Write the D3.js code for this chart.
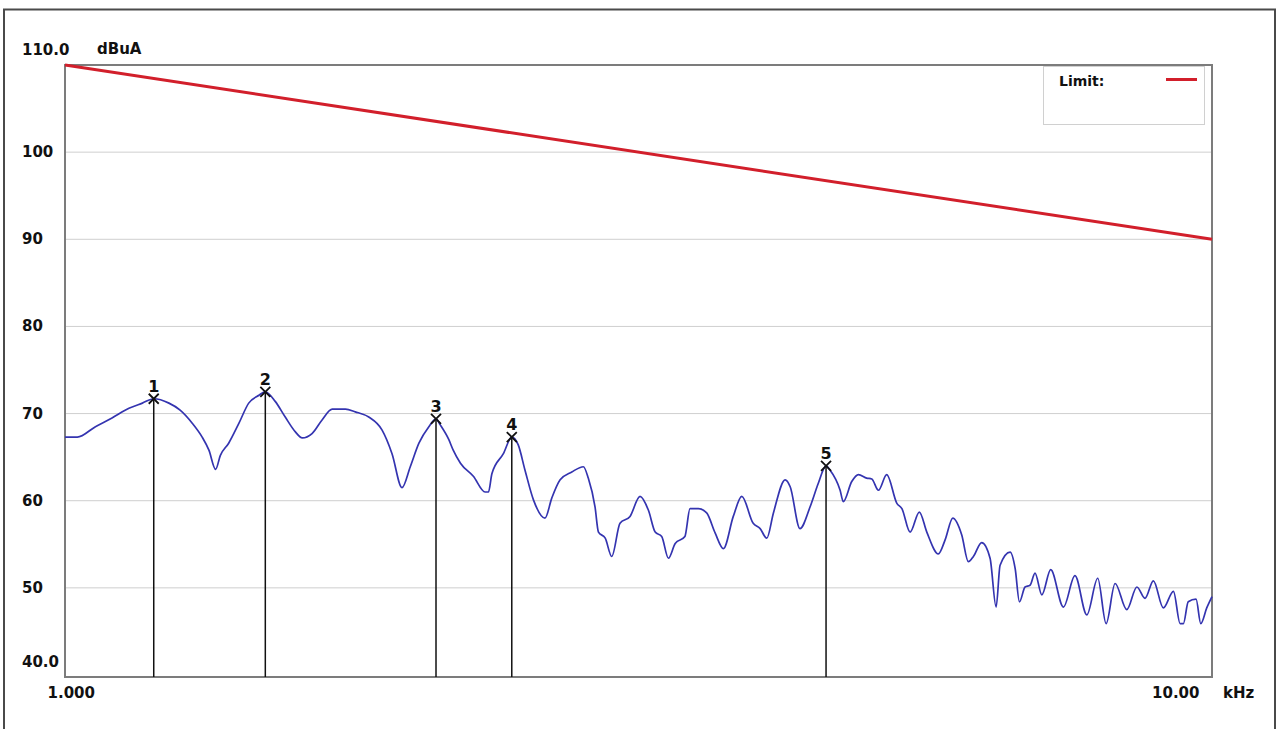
<!DOCTYPE html>
<html>
<head>
<meta charset="utf-8">
<title>Conducted emission scan</title>
<script src="https://cdn.jsdelivr.net/npm/d3@7"></script>
<style>
  html, body { margin: 0; padding: 0; background: #ffffff; }
  svg { display: block; }
  .lbl { font-family: "DejaVu Sans", sans-serif; font-weight: bold; font-size: 15px; fill: #111111; }
</style>
</head>
<body>
<svg id="chart" width="1279" height="729"></svg>
<script>
// Measured spectrum (frequency in kHz, level in dBuA)
const freqKHz = [
  1.000, 1.025, 1.063, 1.099, 1.137, 1.168, 1.195, 1.232, 1.260, 1.291,
  1.317, 1.335, 1.353, 1.366, 1.389, 1.418, 1.446, 1.476, 1.495, 1.525,
  1.556, 1.588, 1.610, 1.642, 1.676, 1.710, 1.756, 1.791, 1.840, 1.890,
  1.928, 1.967, 2.000, 2.035, 2.076, 2.106, 2.124, 2.161, 2.180, 2.212,
  2.270, 2.324, 2.340, 2.356, 2.411, 2.452, 2.484, 2.518, 2.561, 2.621,
  2.657, 2.702, 2.766, 2.831, 2.859, 2.898, 2.918, 2.958, 2.997, 3.047,
  3.109, 3.172, 3.226, 3.270, 3.313, 3.358, 3.404, 3.471, 3.507, 3.566,
  3.626, 3.688, 3.750, 3.825, 3.891, 3.981, 4.037, 4.091, 4.146, 4.245,
  4.288, 4.373, 4.463, 4.537, 4.608, 4.646, 4.740, 4.770, 4.852, 4.917,
  5.000, 5.051, 5.119, 5.205, 5.312, 5.366, 5.455, 5.557, 5.641, 5.773,
  5.852, 5.943, 6.050, 6.132, 6.194, 6.298, 6.405, 6.483, 6.535, 6.668,
  6.736, 6.794, 6.871, 6.940, 7.010, 7.106, 7.234, 7.421, 7.595, 7.778,
  7.950, 8.085, 8.232, 8.428, 8.600, 8.742, 8.890, 9.069, 9.255, 9.380,
  9.442, 9.534, 9.685, 9.777, 9.895, 10.000
];
const levelDbuA = [
  67.3, 67.3, 68.5, 69.5, 70.6, 71.2, 71.7, 71.2, 70.4, 68.9,
  67.3, 65.8, 63.6, 65.2, 66.6, 68.9, 71.2, 72.1, 72.5, 71.4,
  69.6, 67.9, 67.2, 67.7, 69.3, 70.5, 70.5, 70.2, 69.6, 68.1,
  65.4, 61.5, 63.9, 66.6, 68.5, 69.4, 68.7, 67.0, 65.8, 64.3,
  62.8, 61.0, 61.0, 63.1, 65.4, 67.3, 66.4, 63.5, 60.1, 58.0,
  60.3, 62.4, 63.3, 63.9, 62.6, 59.3, 56.4, 55.7, 53.6, 57.4,
  58.2, 60.5, 58.9, 56.4, 55.9, 53.4, 55.1, 55.9, 59.1, 59.1,
  58.6, 56.3, 54.5, 58.2, 60.5, 57.4, 56.8, 55.7, 58.6, 62.4,
  61.6, 56.8, 59.3, 62.0, 64.0, 63.5, 61.2, 59.9, 62.2, 63.0,
  62.6, 62.5, 61.2, 63.0, 59.7, 59.1, 56.4, 58.7, 56.4, 53.9,
  55.5, 58.0, 56.1, 53.0, 53.6, 55.2, 53.4, 47.8, 52.6, 54.1,
  52.2, 48.4, 50.1, 50.3, 51.7, 49.2, 52.1, 47.8, 51.4, 46.9,
  51.1, 45.9, 50.5, 47.5, 50.1, 48.8, 50.8, 47.7, 49.6, 45.9,
  45.9, 48.4, 48.7, 45.9, 47.7, 49.0
];

// Limit line end points
const limitFreqKHz = [1, 10];
const limitDbuA = [110, 90];

// Peak markers
const markerFreqKHz = [1.195, 1.495, 2.106, 2.452, 4.608];
const markerDbuA = [71.7, 72.5, 69.4, 67.3, 64.0];
const markerLabels = ["1", "2", "3", "4", "5"];

// Axis ticks and labels
const yTicks = [110, 100, 90, 80, 70, 60, 50, 40];
const yTickLabels = ["110.0", "100", "90", "80", "70", "60", "50", "40.0"];
const gridLevels = [100, 90, 80, 70, 60, 50];
const xTicks = [1, 10];
const xTickLabels = ["1.000", "10.00"];
const yUnit = "dBuA";
const xUnit = "kHz";
const legendLabel = "Limit:";

const svg = d3.select("#chart");
const W = 1279, H = 729;
const plot = { left: 65, right: 1212, top: 65, bottom: 677 };

const x = d3.scaleLog().domain([1, 10]).range([plot.left, plot.right]);
const y = d3.scaleLinear().domain([40, 110]).range([675, plot.top]);

svg.append("rect").attr("width", W).attr("height", H).attr("fill", "#ffffff");

// outer frame
svg.append("path")
  .attr("d", `M4,${H + 2} V9.5 H1275 V${H + 2}`)
  .attr("fill", "none").attr("stroke", "#4a4a4a").attr("stroke-width", 2);

// horizontal grid
svg.append("g").selectAll("line").data(gridLevels).join("line")
  .attr("x1", plot.left).attr("x2", plot.right)
  .attr("y1", d => y(d)).attr("y2", d => y(d))
  .attr("stroke", "#cfcfcf").attr("stroke-width", 1);

// plot frame
svg.append("rect")
  .attr("x", plot.left).attr("y", plot.top)
  .attr("width", plot.right - plot.left).attr("height", plot.bottom - plot.top)
  .attr("fill", "none").attr("stroke", "#7c7c7c").attr("stroke-width", 2);

// legend box
const legend = svg.append("g");
legend.append("rect")
  .attr("x", 1043.5).attr("y", 66.5).attr("width", 161).attr("height", 58)
  .attr("fill", "#ffffff").attr("stroke", "#d0d0d0").attr("stroke-width", 1);
legend.append("text").attr("class", "lbl").attr("x", 1059).attr("y", 86)
  .style("font-size", "14px").text(legendLabel);
legend.append("line")
  .attr("x1", 1166).attr("x2", 1197).attr("y1", 79.5).attr("y2", 79.5)
  .attr("stroke", "#d21f2b").attr("stroke-width", 3);

// y axis labels
const yAxis = svg.append("g").attr("transform", "translate(22,0)")
  .call(d3.axisLeft(y).tickValues(yTicks)
    .tickFormat((d, i) => yTickLabels[i]).tickSize(0).tickPadding(0));
yAxis.select(".domain").remove();
yAxis.selectAll("text")
  .attr("class", "lbl").attr("text-anchor", "start").attr("x", 0)
  .attr("dy", d => d === 110 ? -11 : d === 40 ? -9 : 4.5)
  .attr("fill", null);

svg.append("text").attr("class", "lbl").attr("x", 97).attr("y", 54).text(yUnit);

// x axis labels
const xAxis = svg.append("g").attr("transform", `translate(0,${plot.bottom})`)
  .call(d3.axisBottom(x).tickValues(xTicks)
    .tickFormat((d, i) => xTickLabels[i]).tickSize(0));
xAxis.select(".domain").remove();
xAxis.selectAll("text")
  .attr("class", "lbl").attr("fill", null)
  .attr("y", 0).attr("dy", 21)
  .attr("text-anchor", d => d === 1 ? "start" : "end")
  .attr("x", d => d === 1 ? -18 : -13);

svg.append("text").attr("class", "lbl").attr("x", 1223).attr("y", 698).text(xUnit);

// limit line
const limitData = limitFreqKHz.map((f, i) => ({ f, v: limitDbuA[i] }));
svg.append("path").datum(limitData)
  .attr("d", d3.line().x(d => x(d.f)).y(d => y(d.v)))
  .attr("fill", "none").attr("stroke", "#d21f2b").attr("stroke-width", 3);

// marker drop lines
const markers = markerFreqKHz.map((f, i) => ({ f, v: markerDbuA[i], label: markerLabels[i] }));
svg.append("g").selectAll("line").data(markers).join("line")
  .attr("x1", d => x(d.f)).attr("x2", d => x(d.f))
  .attr("y1", d => y(d.v)).attr("y2", plot.bottom)
  .attr("stroke", "#111111").attr("stroke-width", 1.5);

// spectrum trace
const trace = freqKHz.map((f, i) => ({ f, v: levelDbuA[i] }));
svg.append("path").datum(trace)
  .attr("d", d3.line().curve(d3.curveMonotoneX).x(d => x(d.f)).y(d => y(d.v)))
  .attr("fill", "none").attr("stroke", "#3434b0").attr("stroke-width", 1.7)
  .attr("stroke-linejoin", "round");

// marker crosses and numbers
const mk = svg.append("g").selectAll("g").data(markers).join("g")
  .attr("transform", d => `translate(${x(d.f)},${y(d.v)})`);
mk.append("path").attr("d", "M-5,-5 L5,5 M-5,5 L5,-5")
  .attr("stroke", "#111111").attr("stroke-width", 1.8).attr("fill", "none");
mk.append("text").attr("class", "lbl").attr("text-anchor", "middle")
  .style("font-size", "16px")
  .attr("y", -7).text(d => d.label);
</script>
</body>
</html>
